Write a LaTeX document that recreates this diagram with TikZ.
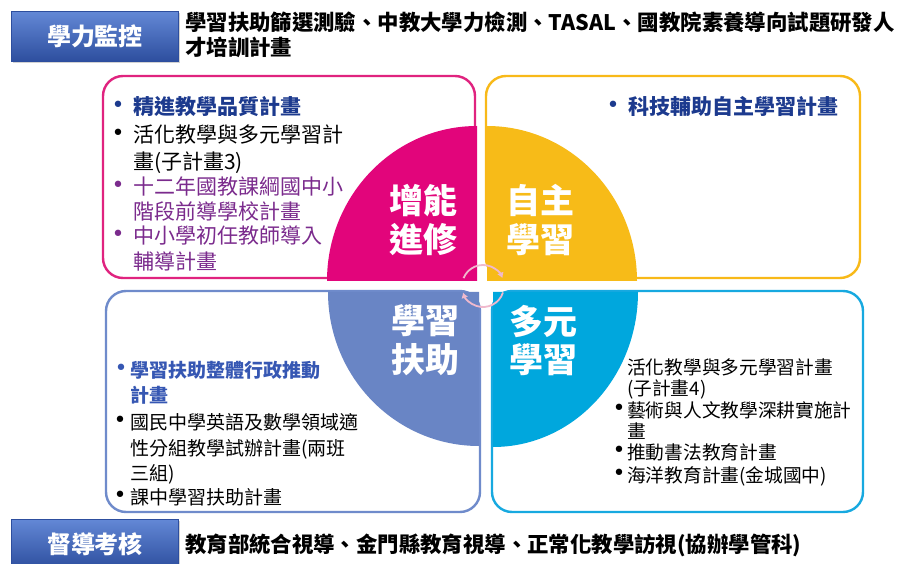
\documentclass[tikz,border=0pt]{standalone}
\usepackage{fontspec}
\setmainfont{Noto Sans CJK TC}
\newfontfamily\bulfont{DejaVu Sans}
\usetikzlibrary{arrows.meta,shadows}
\definecolor{qmag}{HTML}{E2057B}
\definecolor{qyel}{HTML}{F7BB18}
\definecolor{qblu}{HTML}{6985C5}
\definecolor{qcya}{HTML}{00A7DD}
\definecolor{bmag}{HTML}{E0237F}
\definecolor{byel}{HTML}{F8B918}
\definecolor{bblu}{HTML}{6F8BCB}
\definecolor{bcya}{HTML}{17A9E0}
\definecolor{navy}{HTML}{1C3A8E}
\definecolor{blutx}{HTML}{3657B3}
\definecolor{purp}{HTML}{7B2B8D}
\definecolor{lbtop}{HTML}{6388D6}
\definecolor{lbbot}{HTML}{2D4E9E}
\definecolor{arrpink}{HTML}{F0B9CD}
\begin{document}
\begin{tikzpicture}[x=1pt,y=-1pt,
  pbox/.style={draw, line width=2.4pt, rounded corners=20pt, fill=white, inner sep=0pt},
  lblbox/.style={inner sep=0pt, minimum width=167pt, minimum height=50pt,
    top color=lbtop, bottom color=lbbot, draw=lbbot, line width=0.4pt,
    text=white, font=\bfseries\fontsize{24}{24}\selectfont,
    drop shadow={opacity=0.35, shadow xshift=1.5pt, shadow yshift=-2pt}},
  qtext/.style={text=white, inner sep=0pt, font=\bfseries\fontsize{34}{34}\selectfont,
    text height=29.9pt, text depth=4.1pt},
  ln/.style={anchor=west, inner sep=0pt},
  sA/.style={font=\fontsize{21}{21}\selectfont, text height=18.5pt, text depth=2.5pt},
  sAb/.style={font=\bfseries\fontsize{21}{21}\selectfont, text height=18.5pt, text depth=2.5pt},
  sB/.style={font=\fontsize{19}{19}\selectfont, text height=16.7pt, text depth=2.3pt},
  sBb/.style={font=\bfseries\fontsize{19}{19}\selectfont, text height=16.7pt, text depth=2.3pt},
  sC/.style={font=\fontsize{18.7}{18.7}\selectfont, text height=16.5pt, text depth=2.2pt},
  sD/.style={font=\bfseries\fontsize{21.4}{21.4}\selectfont, text height=18.9pt, text depth=2.6pt},
  bul/.style={inner sep=0pt, font=\bulfont\fontsize{22}{22}\selectfont},
  cyc/.style={draw=arrpink, line width=1.8pt, -{Latex[length=5.5pt,width=7pt]}}
]
\useasboundingbox (0,0) rectangle (898,564);
\fill[white] (0,0) rectangle (898,564);

% boxes
\node[pbox, draw=bmag, minimum width=372pt, minimum height=202pt] (boxTL) at (289,177) {};
\node[pbox, draw=byel, minimum width=374pt, minimum height=202pt] (boxTR) at (673,177) {};
\node[pbox, draw=bblu, minimum width=374pt, minimum height=221pt] (boxBL) at (293,401.5) {};
\node[pbox, draw=bcya, minimum width=371pt, minimum height=221pt] (boxBR) at (677.5,401.5) {};

% quadrants
\fill[qmag] (477,281) -- ++(-150,0) arc[start angle=180, end angle=270, x radius=150, y radius=155] -- cycle;
\fill[qyel] (487,281) -- ++(150,0) arc[start angle=0, end angle=-90, x radius=150, y radius=155] -- cycle;
\fill[qblu] (479,292) -- ++(-151,0) arc[start angle=180, end angle=90, x radius=151, y radius=154] -- cycle;
\fill[qcya] (493,292) -- ++(145,0) arc[start angle=0, end angle=90, x radius=145, y radius=155] -- cycle;

% quadrant labels
\node[qtext] (q1a) at (423,201) {增能};
\node[qtext] (q1b) at (423,240) {進修};
\node[qtext] (q2a) at (540,201) {自主};
\node[qtext] (q2b) at (540,240) {學習};
\node[qtext] (q3a) at (425,321) {學習};
\node[qtext] (q3b) at (425,360) {扶助};
\node[qtext] (q4a) at (543,322) {多元};
\node[qtext] (q4b) at (543,360) {學習};

% centre cycle arrows
\coordinate (cc) at (483,286);
\draw[cyc] (cc) ++(202:21) arc[start angle=202, end angle=338, radius=21];
\draw[cyc] (cc) ++(18:21) arc[start angle=18, end angle=162, radius=21];

% label boxes
\node[lblbox] (lblTop) at (95,36.5) {學力監控};
\node[lblbox] (lblBot) at (95,544) {督導考核};

% top / bottom descriptions
\node[ln, sD] (topA) at (185,22) {學習扶助篩選測驗、中教大學力檢測、TASAL、國教院素養導向試題研發人};
\node[ln, sD] (topB) at (185,47) {才培訓計畫};
\node[ln, sD] (botA) at (185,544) {教育部統合視導、金門縣教育視導、正常化教學訪視(協辦學管科)};

% top-left box
\node[bul, text=navy] (b11) at (118,107) {•};
\node[ln, sAb, text=navy] (t11) at (133,107) {精進教學品質計畫};
\node[bul] (b12) at (118,135) {•};
\node[ln, sA] (t12) at (133,135) {活化教學與多元學習計};
\node[ln, sA] (t12b) at (133,162) {畫(子計畫3)};
\node[bul, text=purp] (b13) at (118,187) {•};
\node[ln, sA, text=purp] (t13) at (133,187) {十二年國教課綱國中小};
\node[ln, sA, text=purp] (t13b) at (133,212) {階段前導學校計畫};
\node[bul, text=purp] (b14) at (118,236) {•};
\node[ln, sA, text=purp] (t14) at (133,236) {中小學初任教師導入};
\node[ln, sA, text=purp] (t14b) at (133,262) {輔導計畫};

% top-right box
\node[bul, text=navy] (b21) at (613,107) {•};
\node[ln, sAb, text=navy] (t21) at (628,107) {科技輔助自主學習計畫};

% bottom-left box
\node[bul, text=blutx] (b31) at (121,370) {•};
\node[ln, sBb, text=blutx] (t31) at (130,370) {學習扶助整體行政推動};
\node[ln, sBb, text=blutx] (t31b) at (130,395) {計畫};
\node[bul] (b32) at (120,422) {•};
\node[ln, sB] (t32) at (130,422) {國民中學英語及數學領域適};
\node[ln, sB] (t32b) at (130,448) {性分組教學試辦計畫(兩班};
\node[ln, sB] (t32c) at (130,473) {三組)};
\node[bul] (b33) at (120,497) {•};
\node[ln, sB] (t33) at (130,497) {課中學習扶助計畫};

% bottom-right box
\node[ln, sC] (t41) at (627,367) {活化教學與多元學習計畫};
\node[ln, sC] (t41b) at (627,388) {(子計畫4)};
\node[bul] (b42) at (619,410) {•};
\node[ln, sC] (t42) at (627,410) {藝術與人文教學深耕實施計};
\node[ln, sC] (t42b) at (627,431) {畫};
\node[bul] (b43) at (619,452) {•};
\node[ln, sC] (t43) at (627,452) {推動書法教育計畫};
\node[bul] (b44) at (619,475) {•};
\node[ln, sC] (t44) at (627,475) {海洋教育計畫(金城國中)};
\end{tikzpicture}
\end{document}
